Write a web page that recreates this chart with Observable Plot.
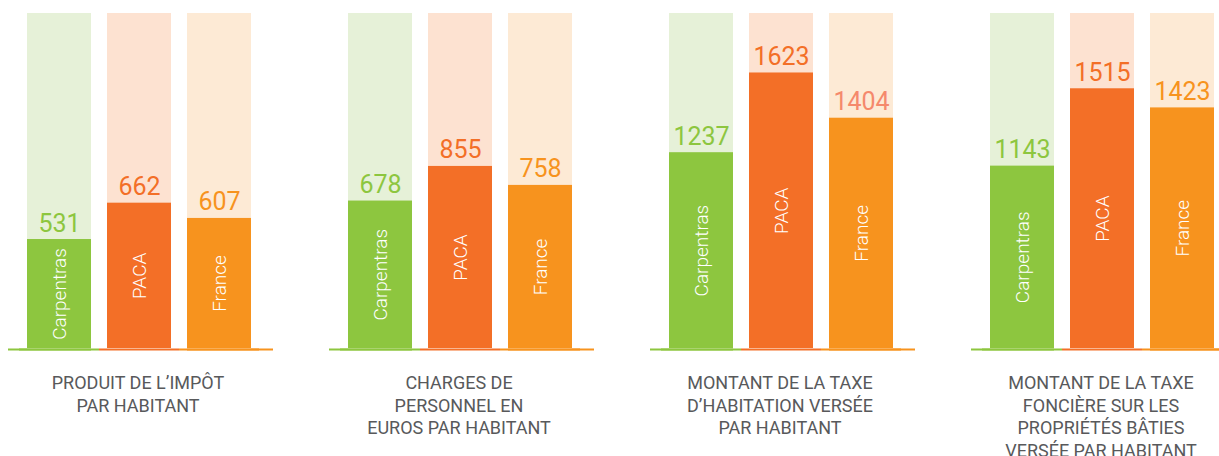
<!DOCTYPE html>
<html>
<head>
<meta charset="utf-8">
<script src="https://cdn.jsdelivr.net/npm/d3@7"></script>
<script src="https://cdn.jsdelivr.net/npm/@observablehq/plot@0.6"></script>
<style>
  html, body { margin: 0; padding: 0; background: #fff; }
  body { width: 1219px; height: 456px; overflow: hidden; }
  #row { display: flex; flex-wrap: nowrap; width: 1400px; }
  .panel { width: 321px; flex: none; }
  .panel svg { display: block; overflow: visible; }
  .caption {
    width: 276px; margin-top: 20px; text-align: center;
    font-family: Roboto, "Noto Sans", sans-serif; font-size: 18px; line-height: 22.5px;
    color: #58595b; letter-spacing: 0;
  }
</style>
</head>
<body>
<div id="row"></div>
<script>
// ---- data ----
const categories = ["Carpentras", "PACA", "France"];
const panelTitles = [
  ["PRODUIT DE L’IMPÔT", "PAR HABITANT"],
  ["CHARGES DE", "PERSONNEL EN", "EUROS PAR HABITANT"],
  ["MONTANT DE LA TAXE", "D’HABITATION VERSÉE", "PAR HABITANT"],
  ["MONTANT DE LA TAXE", "FONCIÈRE SUR LES", "PROPRIÉTÉS BÂTIES", "VERSÉE PAR HABITANT"]
];
const impotParHabitant = [531, 662, 607];
const chargesPersonnel = [678, 855, 758];
const taxeHabitation = [1237, 1623, 1404];
const taxeFonciere = [1143, 1515, 1423];
const panelValues = [impotParHabitant, chargesPersonnel, taxeHabitation, taxeFonciere];
// visual y-range of each panel (bottom of bars, top of pale background)
const yDomains = [[138, 1346], [-76, 1637], [289, 1911], [266, 1877]];

// ---- styles ----
const strong = {Carpentras: "#8dc63f", PACA: "#f36f27", France: "#f7931e"};
const pale = {Carpentras: "#e6f1d8", PACA: "#fde2d1", France: "#fdead5"};
const labelColor = (panel, cat) => (panel === 2 && cat === "France") ? "#f5896c" : strong[cat];

const row = document.getElementById("row");

panelValues.forEach((vals, i) => {
  const [lo, hi] = yDomains[i];
  const rows = categories.map((c, j) => ({cat: c, value: vals[j]}));
  const first = rows.filter(d => d.cat === categories[0]);
  const last = rows.filter(d => d.cat === categories[categories.length - 1]);

  const chart = Plot.plot({
    width: 321,
    height: 352,
    marginTop: 13,
    marginBottom: 4,
    marginLeft: 8,
    marginRight: 51,
    x: {domain: categories, paddingInner: 0.2, paddingOuter: 0.2375, axis: null},
    y: {domain: [lo, hi], axis: null},
    color: {type: "identity"},
    style: {background: "transparent"},
    marks: [
      // pale background columns
      Plot.barY(rows, {x: "cat", y1: lo, y2: hi, fill: d => pale[d.cat]}),
      // value bars
      Plot.barY(rows, {x: "cat", y1: lo, y2: "value", fill: d => strong[d.cat]}),
      // baseline segments
      Plot.tickY(rows, {x: "cat", y: lo, stroke: d => strong[d.cat], strokeWidth: 2, dy: 1, insetLeft: -8, insetRight: -8}),
      Plot.tickY(first, {x: "cat", y: lo, stroke: d => strong[d.cat], strokeWidth: 2, dy: 1, insetLeft: -19, insetRight: 0}),
      Plot.tickY(last, {x: "cat", y: lo, stroke: d => strong[d.cat], strokeWidth: 2, dy: 1, insetLeft: 0, insetRight: -22}),
      // value labels
      Plot.text(rows, {
        x: "cat", y: "value", text: d => String(d.value),
        fill: d => labelColor(i, d.cat), lineAnchor: "bottom", dy: -8,
        fontSize: 25, fontFamily: "Roboto, sans-serif", fontWeight: 400
      }),
      // category names inside bars
      Plot.text(rows, {
        x: "cat", y: d => (lo + d.value) / 2, text: "cat", rotate: -90,
        fill: "#ffffff", fontSize: 19, fontFamily: "Roboto, sans-serif", fontWeight: 300,
        textAnchor: "middle", lineAnchor: "middle"
      })
    ]
  });

  const panel = document.createElement("div");
  panel.className = "panel";
  panel.appendChild(chart);
  const cap = document.createElement("div");
  cap.className = "caption";
  cap.innerHTML = panelTitles[i].join("<br>");
  panel.appendChild(cap);
  row.appendChild(panel);
});
</script>
</body>
</html>
